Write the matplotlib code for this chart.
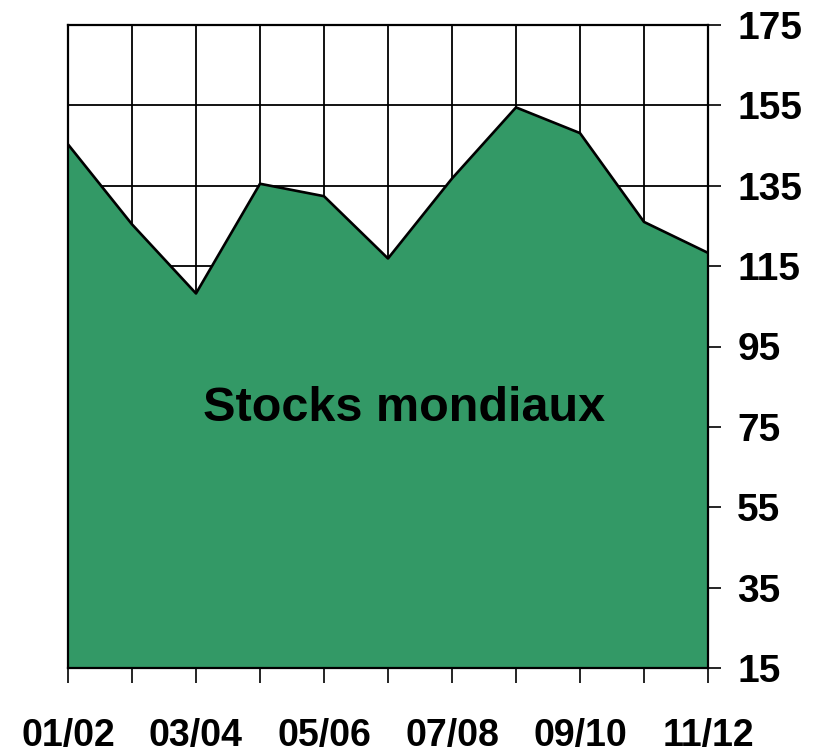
import matplotlib.pyplot as plt

# campaign years and world stocks
seasons = ["01/02", "02/03", "03/04", "04/05", "05/06", "06/07",
           "07/08", "08/09", "09/10", "10/11", "11/12"]
stocks = [145.3, 125.4, 108.2, 135.5, 132.4, 116.9,
          136.8, 154.5, 148.1, 126.0, 118.3]
y_ticks = [15, 35, 55, 75, 95, 115, 135, 155, 175]
label = "Stocks mondiaux"

GREEN = "#339966"

fig = plt.figure(figsize=(8.16, 7.53), dpi=100)
ax = fig.add_axes([68 / 816, 1 - 668 / 753, 640 / 816, 643 / 753])

x = list(range(len(seasons)))
ax.fill_between(x, 15, stocks, color=GREEN, zorder=2, linewidth=0)
ax.plot(x, stocks, color="black", linewidth=1.9, zorder=3)

ax.set_xlim(0, len(seasons) - 1)
ax.set_ylim(15, 175)

ax.set_xticks(x)
ax.set_xticklabels([s if i % 2 == 0 else "" for i, s in enumerate(seasons)],
                   fontfamily="Liberation Sans", fontweight="bold", fontsize=27)
ax.set_yticks(y_ticks)
ax.set_yticklabels([str(v) for v in y_ticks],
                   fontfamily="Liberation Sans", fontweight="bold", fontsize=28)

ax.yaxis.tick_right()
ax.tick_params(axis="x", direction="out", length=11, width=1.2, pad=25)
ax.tick_params(axis="y", direction="out", length=9, width=1.2, pad=12)

ax.grid(True, color="black", linewidth=1.3, zorder=1)
ax.set_axisbelow(True)
for sp in ax.spines.values():
    sp.set_linewidth(1.6)
    sp.set_zorder(4)

ax.text(5.25, 79.5, label, ha="center", va="center",
        fontfamily="Liberation Sans", fontweight="bold", fontsize=35, zorder=5)

fig.savefig("out.png", dpi=100)
